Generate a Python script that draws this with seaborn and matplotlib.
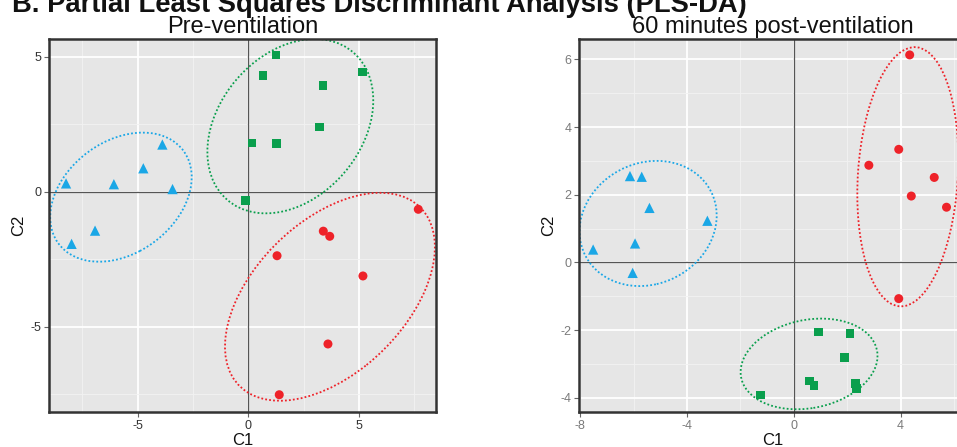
import numpy as np
import pandas as pd
import seaborn as sns
import matplotlib.pyplot as plt
from matplotlib.patches import Ellipse
from matplotlib.ticker import MultipleLocator

# group names and colours
groups = ["G1", "G2", "G3"]
colors = {"G1": "#1AA7E6", "G2": "#0A9F4D", "G3": "#EE2229"}
markers = {"G1": "^", "G2": "s", "G3": "o"}
sizes = {"G1": 55, "G2": 38, "G3": 42}

# Pre-ventilation scores
pre_group = ["G1"] * 7 + ["G2"] * 8 + ["G3"] * 7
pre_c1 = [-8.23, -6.07, -4.74, -3.88, -3.42, -6.92, -7.98,
          1.25, 0.66, 5.17, 3.37, 3.21, 0.17, 1.28, -0.12,
          7.68, 3.39, 3.68, 1.30, 5.18, 3.60, 1.40]
pre_c2 = [0.31, 0.28, 0.87, 1.75, 0.10, -1.44, -1.93,
          5.06, 4.31, 4.44, 3.94, 2.40, 1.80, 1.79, -0.32,
          -0.65, -1.46, -1.65, -2.37, -3.12, -5.64, -7.52]

# 60 minutes post-ventilation scores
post_group = ["G1"] * 7 + ["G2"] * 8 + ["G3"] * 7
post_c1 = [-6.14, -5.70, -5.41, -3.24, -7.52, -5.95, -6.04,
           0.93, 2.10, 1.90, 0.59, 0.76, 2.32, 2.35, -1.25,
           4.34, 3.93, 2.81, 5.26, 4.40, 5.72, 3.93]
post_c2 = [2.55, 2.53, 1.61, 1.23, 0.38, 0.56, -0.31,
           -2.05, -2.10, -2.81, -3.51, -3.64, -3.58, -3.72, -3.92,
           6.13, 3.34, 2.87, 2.51, 1.96, 1.63, -1.07]

# confidence ellipses (centre, semi-axes, angle)
pre_ell_cx = [-5.75, 1.90, 3.69]
pre_ell_cy = [-0.20, 2.43, -3.89]
pre_ell_a = [3.35, 4.03, 5.31]
pre_ell_b = [2.17, 2.87, 3.02]
pre_ell_angle = [23.2, 31.6, 33.2]

post_ell_cx = [-5.46, 0.57, 4.27]
post_ell_cy = [1.15, -3.00, 2.53]
post_ell_a = [2.59, 2.58, 3.84]
post_ell_b = [1.82, 1.31, 1.87]
post_ell_angle = [10.3, 7.2, 85.0]

sns.set_theme(style="darkgrid")
plt.rcParams["font.family"] = ["Liberation Sans", "DejaVu Sans"]
plt.rcParams["axes.unicode_minus"] = False


def draw_panel(ax, df, ell, title, xlim, ylim, xmaj, ymaj, tick_color):
    ax.set_facecolor("#E6E6E6")
    ax.xaxis.set_major_locator(MultipleLocator(xmaj))
    ax.xaxis.set_minor_locator(MultipleLocator(xmaj / 2))
    ax.yaxis.set_major_locator(MultipleLocator(ymaj))
    ax.yaxis.set_minor_locator(MultipleLocator(ymaj / 2))
    ax.grid(which="major", color="white", linewidth=1.3)
    ax.grid(which="minor", color="#F2F2F2", linewidth=0.6)
    ax.set_axisbelow(True)
    ax.axhline(0, color="#555555", linewidth=0.9, zorder=1)
    ax.axvline(0, color="#555555", linewidth=0.9, zorder=1)

    for g, cx, cy, a, b, ang in zip(groups, *ell):
        e = Ellipse((cx, cy), 2 * a, 2 * b, angle=ang, fill=False,
                    edgecolor=colors[g], linestyle=(0, (1, 1.2)),
                    linewidth=1.3, zorder=2)
        ax.add_patch(e)

    sns.scatterplot(data=df, x="C1", y="C2", hue="group", style="group",
                    size="group", palette=colors, markers=markers,
                    sizes=sizes, edgecolor="none", legend=False,
                    ax=ax, zorder=3)

    ax.set_xlim(*xlim)
    ax.set_ylim(*ylim)
    ax.set_title(title, fontsize=17, pad=4, color="#111111")
    ax.set_xlabel("C1", fontsize=12, labelpad=1, color="#111111")
    ax.set_ylabel("C2", fontsize=12, labelpad=3, color="#111111")
    ax.tick_params(which="major", length=3.5, width=0.8, color="#666666",
                   labelsize=9, labelcolor=tick_color, pad=2,
                   bottom=True, left=True)
    ax.tick_params(which="minor", length=0)
    for sp in ax.spines.values():
        sp.set_visible(True)
        sp.set_color("#333333")
        sp.set_linewidth(1.8)


df_pre = pd.DataFrame({"C1": pre_c1, "C2": pre_c2, "group": pre_group})
df_post = pd.DataFrame({"C1": post_c1, "C2": post_c2, "group": post_group})

fig = plt.figure(figsize=(9.57, 4.47), dpi=100)
fig.patch.set_facecolor("white")
ax1 = fig.add_axes([49 / 957, 35 / 447, 387 / 957, 373 / 447])
ax2 = fig.add_axes([579 / 957, 35 / 447, 387 / 957, 373 / 447])

draw_panel(ax1, df_pre,
           (pre_ell_cx, pre_ell_cy, pre_ell_a, pre_ell_b, pre_ell_angle),
           "Pre-ventilation", (-9.0, 8.48), (-8.16, 5.66), 5, 5, "#333333")
draw_panel(ax2, df_post,
           (post_ell_cx, post_ell_cy, post_ell_a, post_ell_b, post_ell_angle),
           "60 minutes post-ventilation", (-8.05, 6.45), (-4.42, 6.6), 4, 2,
           "#7A7A7A")

fig.text(12 / 957, 1 - 11.5 / 447,
         "B. Partial Least Squares Discriminant Analysis (PLS-DA)",
         fontsize=19.7, fontweight="bold", ha="left", va="baseline",
         color="#111111")

fig.savefig("out.png", dpi=100)
